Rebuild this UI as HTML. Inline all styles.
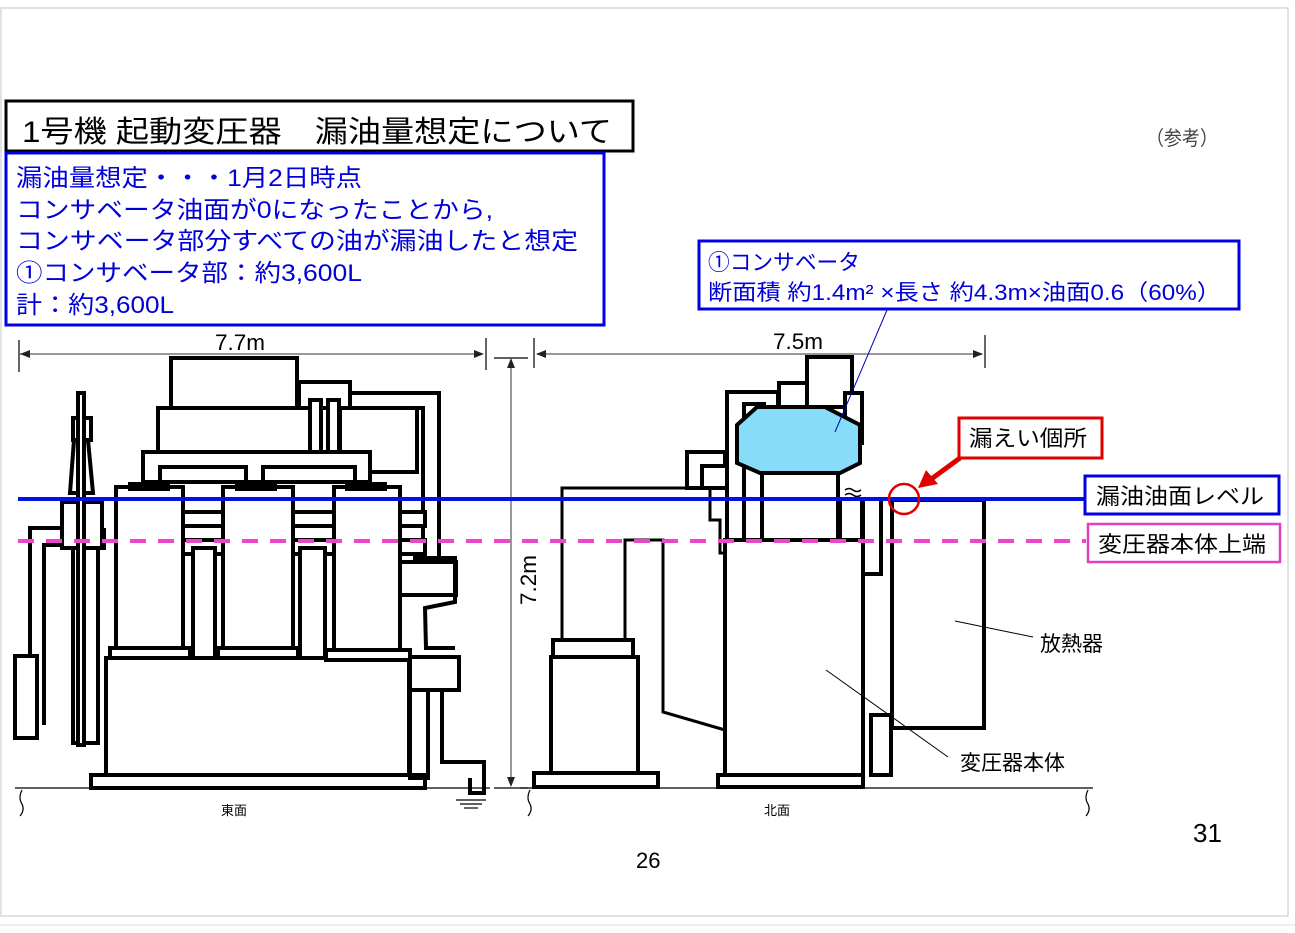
<!DOCTYPE html>
<html><head><meta charset="utf-8"><style>
html,body{margin:0;padding:0;background:#fff;}
svg{display:block;}
text{font-family:"Liberation Sans","Noto Sans CJK JP",sans-serif;}
</style></head><body>
<svg width="1295" height="933" viewBox="0 0 1295 933" xmlns="http://www.w3.org/2000/svg">
<rect x="0" y="0" width="1295" height="933" fill="#fff"/>
<rect x="1" y="8" width="1287" height="908" fill="none" stroke="#d8d8d8" stroke-width="1.5"/>
<line x1="0" y1="925" x2="1295" y2="925" stroke="#ddd" stroke-width="1"/>

<rect x="6" y="101" width="627" height="50" fill="#fff" stroke="#000" stroke-width="3"/>
<text x="22" y="142" font-size="30" textLength="590" lengthAdjust="spacingAndGlyphs">1号機 起動変圧器　漏油量想定について</text>
<text x="1146" y="145" font-size="20" fill="#444" textLength="72" lengthAdjust="spacingAndGlyphs">（参考）</text>

<rect x="6" y="153" width="598" height="172" fill="#fff" stroke="#0000e0" stroke-width="3"/>
<g fill="#0000d8" font-size="24">
<text x="16" y="186" textLength="346" lengthAdjust="spacingAndGlyphs">漏油量想定・・・1月2日時点</text>
<text x="16" y="218" textLength="477" lengthAdjust="spacingAndGlyphs">コンサベータ油面が0になったことから,</text>
<text x="16" y="249" textLength="562" lengthAdjust="spacingAndGlyphs">コンサベータ部分すべての油が漏油したと想定</text>
<text x="16" y="281" textLength="346" lengthAdjust="spacingAndGlyphs">①コンサベータ部：約3,600L</text>
<text x="16" y="313" textLength="158" lengthAdjust="spacingAndGlyphs">計：約3,600L</text>
</g>

<rect x="699" y="241" width="540" height="68" fill="#fff" stroke="#0000e0" stroke-width="3"/>
<g fill="#0000d8" font-size="22">
<text x="708" y="270" textLength="152" lengthAdjust="spacingAndGlyphs">①コンサベータ</text>
<text x="708" y="300" textLength="513" lengthAdjust="spacingAndGlyphs">断面積 約1.4m² ×長さ 約4.3m×油面0.6（60%）</text>
</g>

<g stroke="#777" stroke-width="1.5" fill="none">
<line x1="20" y1="354" x2="482" y2="354"/>
<line x1="537" y1="354" x2="982" y2="354"/>
<line x1="511" y1="360" x2="511" y2="785"/>
</g>
<g stroke="#000" stroke-width="1.2">
<line x1="19" y1="340" x2="19" y2="372"/><line x1="486" y1="338" x2="486" y2="370"/>
<line x1="534" y1="338" x2="534" y2="368"/><line x1="985" y1="335" x2="985" y2="368"/>
<line x1="494" y1="358" x2="528" y2="358"/><line x1="494" y1="788" x2="528" y2="788"/>
</g>
<g fill="#222">
<polygon points="20,354 30,350 30,358"/><polygon points="484,354 474,350 474,358"/>
<polygon points="536,354 546,350 546,358"/><polygon points="983,354 973,350 973,358"/>
<polygon points="511,358 507,368 515,368"/><polygon points="511,787 507,777 515,777"/>
</g>
<text x="215" y="350" font-size="22" fill="#000" textLength="50" lengthAdjust="spacingAndGlyphs">7.7m</text>
<text x="773" y="349" font-size="22" fill="#000" textLength="50" lengthAdjust="spacingAndGlyphs">7.5m</text>
<text transform="translate(536,605) rotate(-90)" font-size="22" fill="#000" textLength="50" lengthAdjust="spacingAndGlyphs">7.2m</text>

<g stroke="#000" stroke-width="1.2" fill="none">
<line x1="15" y1="788" x2="490" y2="788"/>
<line x1="520" y1="788" x2="1093" y2="788"/>
<path d="M22,790 q-4,8 0,14 q3,6 -2,12"/>
<path d="M530,790 q-4,8 0,14 q3,6 -2,12"/>
<path d="M1088,790 q-4,8 0,14 q3,6 -2,12"/>
<line x1="456" y1="800" x2="486" y2="800"/><line x1="460" y1="804" x2="482" y2="804"/><line x1="464" y1="808" x2="478" y2="808"/>
</g>
<text x="221" y="815" font-size="13" fill="#000">東面</text>
<text x="764" y="815" font-size="13" fill="#000">北面</text>

<g stroke="#000" stroke-width="4" fill="#fff">
<path d="M350,393 H439 V556 M350,408 H423 V556" fill="none"/>
<rect x="171" y="358" width="126" height="50"/>
<rect x="299" y="382" width="51" height="27"/>
<rect x="158" y="408" width="259" height="44"/>
<rect x="340" y="408" width="77" height="64"/>
<rect x="310" y="400" width="11" height="52"/>
<rect x="328" y="400" width="11" height="52"/>
<rect x="143" y="452" width="227" height="30"/>
<rect x="160" y="467" width="86" height="15"/>
<rect x="263" y="467" width="92" height="15"/>
<rect x="106" y="658" width="303" height="117"/>
<rect x="91" y="775" width="334" height="13"/>
<rect x="183" y="512" width="40" height="14"/><rect x="183" y="540" width="40" height="14"/>
<rect x="293" y="512" width="41" height="14"/><rect x="293" y="540" width="41" height="14"/>
<rect x="400" y="512" width="25" height="14"/><rect x="400" y="540" width="25" height="14"/>
<rect x="193" y="548" width="22" height="110"/>
<rect x="300" y="548" width="25" height="110"/>
<rect x="110" y="648" width="80" height="10"/>
<rect x="218" y="648" width="80" height="10"/>
<rect x="326" y="650" width="84" height="10"/>
<rect x="116" y="487" width="67" height="161"/>
<rect x="223" y="487" width="70" height="161"/>
<rect x="334" y="487" width="66" height="163"/>
<rect x="130" y="484" width="38" height="5" fill="#000"/>
<rect x="237" y="484" width="38" height="5" fill="#000"/>
<rect x="347" y="484" width="38" height="5" fill="#000"/>
<rect x="400" y="562" width="56" height="33"/>
<path d="M413,558 H455 V602 L425,608 L426,648 H455" fill="none"/>
<rect x="410" y="657" width="49" height="33"/>
<path d="M410,690 V778 H428 V690 M442,690 V762 H484 V793 H470 V778" fill="none"/>
<path d="M62,548 V530 H104 V548 Z"/>
<rect x="62" y="502" width="40" height="46"/>
<path d="M30,740 V528 H62 M44,725 V545 H62" fill="none"/>
<rect x="15" y="656" width="22" height="82"/>
<rect x="73" y="548" width="25" height="195"/>
<path d="M70,493 L74,440 H88 L93,493 Z" fill="#fff"/>
<rect x="73" y="418" width="18" height="22"/>
<rect x="78" y="393" width="6" height="352"/>
</g>

<g stroke="#000" stroke-width="4" fill="#fff">
<path d="M562,640 V488 H710 V520 H720 V553 H725" fill="none" stroke-width="3"/>
<path d="M625,640 V540 H663 V712 L725,730" fill="none" stroke-width="3"/>
<rect x="687" y="452" width="38" height="36"/>
<rect x="702" y="466" width="25" height="22"/>
<rect x="727" y="392" width="51" height="148"/>
<rect x="744" y="404" width="20" height="136"/>
<rect x="807" y="357" width="45" height="50"/>
<rect x="779" y="383" width="28" height="24"/>
<rect x="845" y="393" width="17" height="50"/>
<rect x="762" y="473" width="76" height="67"/>
<rect x="840" y="499" width="22" height="41"/>
<rect x="863" y="499" width="18" height="75"/>
<rect x="892" y="500" width="92" height="228"/>
<rect x="871" y="715" width="20" height="60"/>
<rect x="725" y="540" width="138" height="235"/>
<rect x="718" y="775" width="145" height="12"/>
<rect x="553" y="640" width="80" height="17"/>
<rect x="551" y="657" width="87" height="116"/>
<rect x="534" y="773" width="124" height="14"/>
<polygon points="757,407 825,407 860,425 860,463 840,473 760,473 737,463 737,425" fill="#87ddf9"/>
<path d="M845,490 q4,-3 8,0 q4,3 8,0 M845,495 q4,-3 8,0 q4,3 8,0" fill="none" stroke-width="1.5"/>
</g>
<line x1="887" y1="310" x2="835" y2="432" stroke="#0000c0" stroke-width="1"/>

<g stroke="#000" stroke-width="1">
<line x1="955" y1="621" x2="1033" y2="637"/>
<line x1="826" y1="670" x2="948" y2="757"/>
</g>
<text x="1040" y="651" font-size="21" fill="#000">放熱器</text>
<text x="960" y="770" font-size="21" fill="#000">変圧器本体</text>

<line x1="18" y1="499" x2="1085" y2="499" stroke="#0010e8" stroke-width="4"/>
<line x1="18" y1="541" x2="1086" y2="541" stroke="#ee44cc" stroke-width="4" stroke-dasharray="16,12"/>
<rect x="1085" y="476" width="194" height="38" fill="#fff" stroke="#0000e0" stroke-width="3"/>
<text x="1096" y="504" font-size="22" fill="#000" textLength="168" lengthAdjust="spacingAndGlyphs">漏油油面レベル</text>
<rect x="1088" y="524" width="192" height="38" fill="#fff" stroke="#e040c0" stroke-width="2.5"/>
<text x="1098" y="552" font-size="22" fill="#000" textLength="168" lengthAdjust="spacingAndGlyphs">変圧器本体上端</text>

<rect x="959" y="418" width="143" height="40" fill="#fff" stroke="#e00000" stroke-width="3"/>
<text x="969" y="446" font-size="22" fill="#000" textLength="118" lengthAdjust="spacingAndGlyphs">漏えい個所</text>
<circle cx="904" cy="499" r="15" fill="none" stroke="#e00000" stroke-width="2.5"/>
<line x1="960" y1="458" x2="930" y2="480" stroke="#e00000" stroke-width="5"/>
<polygon points="918,488 926,470 938,484" fill="#e00000"/>

<text x="1193" y="842" font-size="26" fill="#000">31</text>
<text x="636" y="868" font-size="22" fill="#000">26</text>
</svg>
</body></html>
